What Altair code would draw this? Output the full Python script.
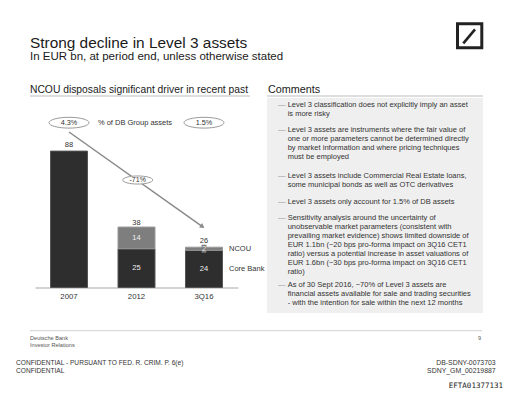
import altair as alt
import pandas as pd

# ---- data ----
years = ["2007", "2012", "3Q16"]
core_bank = [88, 25, 24]
ncou = [0, 14, 2]
totals = [88, 38, 26]
pct_years = ["2007", "3Q16"]
pct_labels = ["4.3%", "1.5%"]
change_label = "-71%"

title = "Strong decline in Level 3 assets"
subtitle = "In EUR bn, at period end, unless otherwise stated"
left_header = "NCOU disposals significant driver in recent past"
right_header = "Comments"
comments = [
    ["Level 3 classification does not explicitly imply an asset", "is more risky"],
    ["Level 3 assets are instruments where the fair value of",
     "one or more parameters cannot be determined directly",
     "by market information and where pricing techniques",
     "must be employed"],
    ["Level 3 assets include Commercial Real Estate loans,",
     "some municipal bonds as well as OTC derivatives"],
    ["Level 3 assets only account for 1.5% of DB assets"],
    ["Sensitivity analysis around the uncertainty of",
     "unobservable market parameters (consistent with",
     "prevailing market evidence) shows limited downside of",
     "EUR 1.1bn (~20 bps pro-forma impact on 3Q16 CET1",
     "ratio) versus a potential increase in asset valuations of",
     "EUR 1.6bn (~30 bps pro-forma impact on 3Q16 CET1",
     "ratio)"],
    ["As of 30 Sept 2016, ~70% of Level 3 assets are",
     "financial assets available for sale and trading securities",
     "- with the intention for sale within the next 12 months"],
]

FONT = "Liberation Sans"
W, H = 496, 381

# ---- tables ----
rows = []
for yr, c, n in zip(years, core_bank, ncou):
    rows.append({"year": yr, "segment": "Core Bank", "start": 0, "end": c,
                 "mid": c / 2, "value": c})
    if n > 0:
        rows.append({"year": yr, "segment": "NCOU", "start": c, "end": c + n,
                     "mid": c + n / 2, "value": n})
seg = pd.DataFrame(rows)
tot = pd.DataFrame({"year": years, "total": totals})
pct = pd.DataFrame({"year": pct_years, "label": pct_labels})

xscale = alt.Scale(domain=years, range=[27, 230], paddingInner=0.452, paddingOuter=0.23)
yscale = alt.Scale(domain=[0, 88], range=[279.5, 143.1])
xaxis = alt.Axis(orient="bottom", offset=-101.5, title=None, ticks=False, labelAngle=0,
                 domainColor="#c4c4c4", domainWidth=1.5, labelFont=FONT, labelFontSize=7.8,
                 labelColor="#333333", labelPadding=5, grid=False)
X = alt.X("year:N", sort=years, scale=xscale, axis=xaxis)

blank = alt.Data(values=[{"a": 1}])


def txt(text, x, y, size, color="#222222", align="left", baseline="middle", font=FONT, lh=None):
    kw = dict(text=text, align=align, baseline=baseline, font=font, fontSize=size)
    if lh is not None:
        kw["lineHeight"] = lh
    return alt.Chart(blank).mark_text(**kw).encode(
        x=alt.value(x), y=alt.value(y), color=alt.value(color))


def rule(x, y, x2, y2, color, width):
    return alt.Chart(blank).mark_rule(strokeWidth=width).encode(
        x=alt.value(x), y=alt.value(y), x2=alt.value(x2), y2=alt.value(y2),
        color=alt.value(color))


layers = []

# comments background box
layers.append(alt.Chart(blank).mark_rect().encode(
    x=alt.value(259), x2=alt.value(475), y=alt.value(90), y2=alt.value(305),
    color=alt.value("#efefef")))

# bars
bars = alt.Chart(seg).mark_bar(strokeWidth=1).encode(
    x=X,
    y=alt.Y("start:Q", scale=yscale, axis=None),
    y2="end:Q",
    color=alt.Color("segment:N", scale=alt.Scale(domain=["Core Bank", "NCOU"],
                                                  range=["#2e2e2e", "#7e7e7e"]), legend=None),
    stroke=alt.Stroke("segment:N", scale=alt.Scale(domain=["Core Bank", "NCOU"],
                                                    range=["#555555", "#999999"]), legend=None),
)
layers.append(bars)

# small label box for tiny segments
small_box = alt.Chart(seg).transform_filter("datum.value < 5").mark_point(
    shape="M-0.6,-1H0.6V1H-0.6Z", size=64, filled=True, opacity=1
).encode(x=X, y=alt.Y("mid:Q", scale=yscale, axis=None), color=alt.value("#7a7a7a"))
layers.append(small_box)

# inside labels
inner = alt.Chart(seg).transform_filter("datum.year != '2007'").mark_text(
    font=FONT, fontSize=7.5, baseline="middle").encode(
    x=X, y=alt.Y("mid:Q", scale=yscale, axis=None), text="value:Q",
    color=alt.value("#f0f0f0"))
layers.append(inner)

# totals
top = alt.Chart(tot).mark_text(font=FONT, fontSize=7.5, baseline="middle", dy=-6).encode(
    x=X, y=alt.Y("total:Q", scale=yscale, axis=None), text="total:Q",
    color=alt.value("#333333"))
layers.append(top)

# segment legend to the right of last bar
leg = alt.Chart(seg).transform_filter("datum.year == '3Q16'").mark_text(
    font=FONT, fontSize=7.5, align="left", baseline="middle", dx=25
).encode(x=X, y=alt.Y("mid:Q", scale=yscale, axis=None), text="segment:N",
         color=alt.value("#333333"))
layers.append(leg)

# arrow
layers.append(rule(61, 124, 193, 217.6, "#8a8a8a", 1.5))
layers.append(alt.Chart(blank).mark_point(shape="triangle-right", filled=True, size=28,
                                          angle=35, opacity=1).encode(
    x=alt.value(194.5), y=alt.value(218.6), color=alt.value("#8a8a8a")))

ELL = "M-1,0A1,0.27 0 1,1 1,0A1,0.27 0 1,1 -1,0Z"
# pct ellipses
layers.append(alt.Chart(pct).mark_point(shape=ELL, size=1600, filled=True, fill="white",
                                        stroke="#9a9a9a", strokeWidth=1, opacity=1).encode(
    x=X, y=alt.value(114.7)))
layers.append(alt.Chart(pct).mark_text(font=FONT, fontSize=7.3).encode(
    x=X, y=alt.value(114.7), text="label:N", color=alt.value("#333333")))
layers.append(txt("% of DB Group assets", 127, 114.7, 7.5, "#333333", align="center"))
# -71% ellipse
layers.append(alt.Chart(blank).mark_point(shape=ELL, size=900, filled=True, fill="white",
                                          stroke="#9a9a9a", strokeWidth=1, opacity=1).encode(
    x=alt.value(129.7), y=alt.value(172)))
layers.append(txt(change_label, 129.7, 172, 7, "#333333", align="center"))

# titles
layers.append(txt(title, 22, 34.5, 15.4, "#1a1a1a"))
layers.append(txt(subtitle, 22, 49.3, 11.5, "#1a1a1a"))
layers.append(txt(left_header, 22, 81.5, 10.3, "#1a1a1a"))
layers.append(txt(right_header, 260, 81.5, 10.8, "#1a1a1a"))
layers.append(rule(22, 88, 242, 88, "#bdbdbd", 1))
layers.append(rule(259, 88, 475, 88, "#bdbdbd", 1))

# logo
layers.append(alt.Chart(blank).mark_rect(fill="white", stroke="#222222", strokeWidth=3).encode(
    x=alt.value(449.5), x2=alt.value(473.8), y=alt.value(15.8), y2=alt.value(39.8)))
layers.append(rule(455.3, 35.3, 467, 21.3, "#222222", 2.6))

# comments
starts = [96, 121.5, 167.7, 193.7, 209.3, 276.3]
for para, y0 in zip(comments, starts):
    layers.append(txt("\u2014", 270, y0 + 2.6, 7.5, "#9a9a9a", baseline="alphabetic"))
    layers.append(txt(para, 279.7, y0 + 2.6, 7.5, "#333333", baseline="alphabetic", lh=9))

# footer
layers.append(rule(22, 322.7, 474, 322.7, "#d0d0d0", 1))
layers.append(txt("Deutsche Bank", 22, 330, 5.6, "#555555"))
layers.append(txt("Investor Relations", 22, 336.7, 5.6, "#555555"))
layers.append(txt("9", 473, 330, 5.6, "#555555", align="right"))
layers.append(txt("CONFIDENTIAL - PURSUANT TO FED. R. CRIM. P. 6(e)", 8, 354.7, 6.6, "#333333"))
layers.append(txt("CONFIDENTIAL", 8, 363, 6.6, "#333333"))
layers.append(txt("DB-SDNY-0073703", 487.7, 354.7, 6.9, "#333333", align="right"))
layers.append(txt("SDNY_GM_00219887", 487.7, 363, 6.9, "#333333", align="right"))
layers.append(txt("EFTA01377131", 495, 377.5, 7.5, "#222222", align="right", font="DejaVu Sans Mono"))

chart = alt.layer(*layers).properties(
    width=W, height=H, padding=0, autosize=alt.AutoSizeParams(type="none")
).configure_view(stroke=None)

chart.save("out.html", embed_options={"renderer": "svg", "actions": False})
